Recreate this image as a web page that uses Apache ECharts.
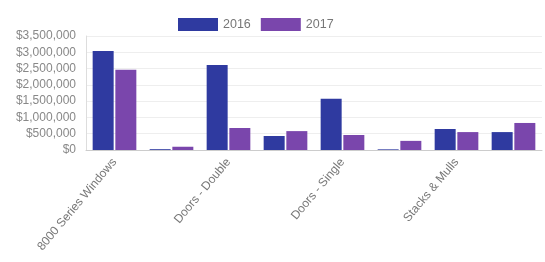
<!DOCTYPE html>
<html>
<head>
<meta charset="utf-8">
<script src="https://cdn.jsdelivr.net/npm/echarts@6/dist/echarts.min.js"></script>
<style>
  html, body { margin: 0; padding: 0; background: #fff; }
  #chart { width: 545px; height: 262px; }
</style>
</head>
<body>
<div id="chart"></div>
<script>
const categories = ['8000 Series Windows', 'Casement Windows', 'Doors - Double', 'Doors - French',
  'Doors - Single', 'Patio Doors', 'Stacks & Mulls', 'Windows - Custom']
const sales2016 = [3040000, 25000, 2610000, 430000, 1570000, 20000, 645000, 550000]
const sales2017 = [2460000, 100000, 675000, 580000, 460000, 280000, 550000, 830000]
const yTicks = [0, 500000, 1000000, 1500000, 2000000, 2500000, 3000000, 3500000]

const chart = echarts.init(document.getElementById('chart'))

function money(v) {
  return '$' + String(v).replace(/\B(?=(\d{3})+(?!\d))/g, ',')
}

chart.setOption({
  animation: false,
  textStyle: { fontFamily: 'Liberation Sans, Arial, sans-serif' },
  legend: {
    top: 13,
    left: 173,
    itemWidth: 40,
    itemHeight: 13,
    itemGap: 10,
    icon: 'rect',
    textStyle: { fontSize: 12.5, color: '#777' },
    data: ['2016', '2017']
  },
  grid: { left: 86, right: 3, top: 36, bottom: 112, containLabel: false },
  xAxis: {
    type: 'category',
    data: categories,
    axisLine: { lineStyle: { color: '#ccc' } },
    axisTick: { show: false },
    axisLabel: { interval: 1, rotate: 50, fontSize: 12, color: '#777', margin: 10 }
  },
  yAxis: {
    type: 'value',
    min: yTicks[0],
    max: yTicks[yTicks.length - 1],
    interval: yTicks[1] - yTicks[0],
    axisLine: { show: true, lineStyle: { color: '#ddd' } },
    splitLine: { lineStyle: { color: '#eee' } },
    axisLabel: { fontSize: 12, color: '#888', margin: 10, formatter: money }
  },
  series: [
    {
      name: '2016',
      type: 'bar',
      data: sales2016,
      barWidth: 21,
      barGap: '8%',
      itemStyle: { color: '#2f3aa0' }
    },
    {
      name: '2017',
      type: 'bar',
      data: sales2017,
      barWidth: 21,
      itemStyle: { color: '#7a46ac' }
    }
  ]
})
</script>
</body>
</html>
